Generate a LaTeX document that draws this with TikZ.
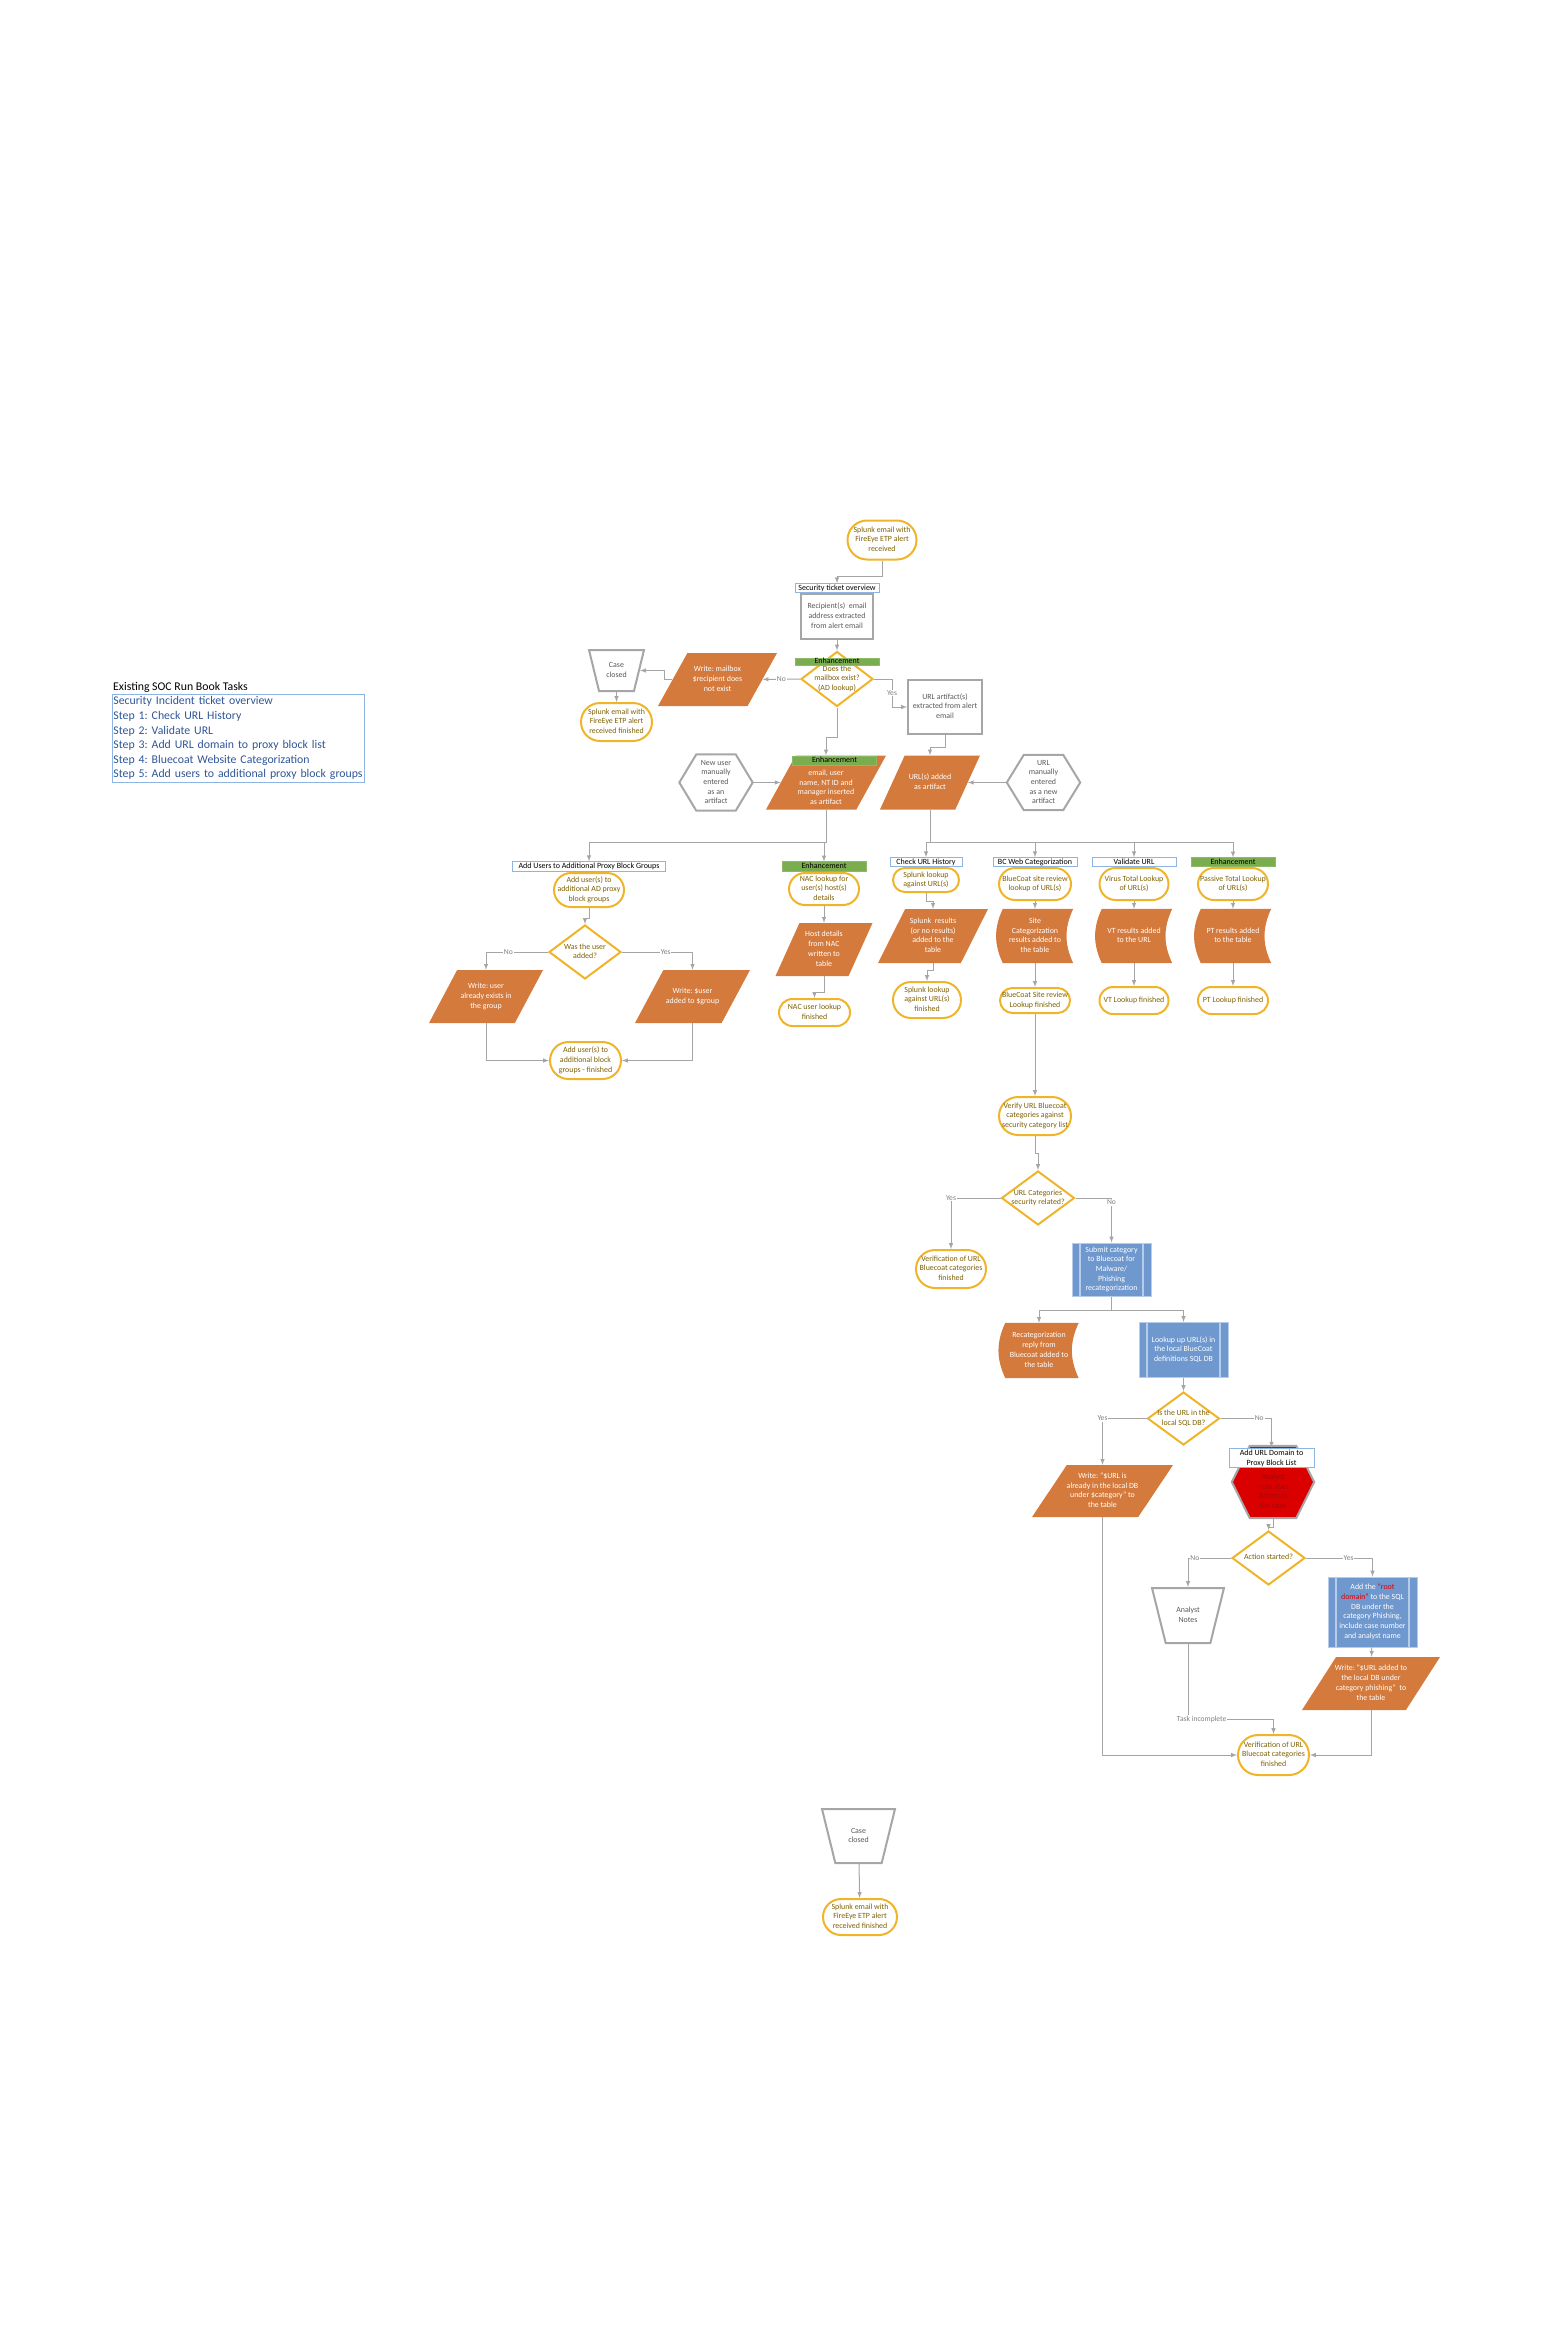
\documentclass[tikz,border=0pt]{standalone}
\usepackage{fontspec}
\setmainfont{Carlito}
\usetikzlibrary{shapes.geometric, shapes.misc, arrows, positioning, backgrounds}
\definecolor{mgold}{HTML}{F0B429}
\definecolor{mtxt}{HTML}{7F6000}
\definecolor{morange}{HTML}{D47A3C}
\definecolor{mgray}{HTML}{A6A6A6}
\definecolor{mgtxt}{HTML}{595959}
\definecolor{mline}{HTML}{A5A5A5}
\definecolor{mlbl}{HTML}{808080}
\definecolor{mblue}{HTML}{6F98CE}
\definecolor{mpale}{HTML}{B7CBEA}
\definecolor{mhdr}{HTML}{8EB4E3}
\definecolor{mgreen}{HTML}{7AAD4E}
\definecolor{mred}{HTML}{DA0000}
\definecolor{mdred}{HTML}{9C0A0A}
\definecolor{mroot}{HTML}{E00000}
\definecolor{mlegend}{HTML}{2F5597}
\newcommand{\nodefont}{\frenchspacing\fontsize{7.9}{9.7}\selectfont}
\newcommand{\hdrfont}{\frenchspacing\fontsize{8}{9.7}\selectfont}
\newcommand{\lblfont}{\fontsize{7.6}{9}\selectfont}
\newcommand{\legfont}{\frenchspacing\fontsize{11.8}{14.6}\selectfont}
% text that does not push the shape wider
\newcommand{\ztext}[2][-2pt]{\makebox[0pt]{\smash{\raisebox{#1}{\begin{tabular}{@{}c@{}}#2\end{tabular}}}}}
\tikzset{trapezium stretches=true}
\tikzstyle{terminal} = [rounded rectangle, draw=mgold, line width=2pt, fill=white, text=mtxt, inner sep=1pt]
\tikzstyle{gbox} = [rectangle, draw=mgray, line width=2pt, fill=white, text=mgtxt, inner sep=1pt]
\tikzstyle{decision} = [diamond, draw=mgold, line width=2pt, fill=white, text=mtxt, inner sep=1pt]
\tikzstyle{writeio} = [trapezium, trapezium left angle=64, trapezium right angle=116, fill=morange, text=white, inner sep=1pt]
\tikzstyle{stored} = [rectangle, text=white, inner sep=1pt]
\tikzstyle{hexa} = [rectangle, text=mgtxt, inner sep=1pt]
\tikzstyle{closed} = [trapezium, shape border rotate=180, trapezium angle=74, draw=mgray, line width=2pt, fill=white, text=mgtxt, inner sep=1pt]
\tikzstyle{subproc} = [rectangle, fill=mblue, draw=mpale, line width=1pt, text=white, inner sep=1pt,
  path picture={\draw[mpale, line width=1.2pt] ([xshift=8pt]path picture bounding box.north west) -- ([xshift=8pt]path picture bounding box.south west)
    ([xshift=-8pt]path picture bounding box.north east) -- ([xshift=-8pt]path picture bounding box.south east);}]
\tikzstyle{header} = [rectangle, draw=mhdr, line width=0.8pt, fill=white, text=black, inner sep=0pt, text height=5.6pt, text depth=1.6pt, font=\hdrfont]
\tikzstyle{enh} = [rectangle, draw=mgreen!85!white, line width=0.6pt, fill=mgreen, text=black, inner sep=0pt, text height=5.4pt, text depth=1.4pt, font=\hdrfont]
\tikzstyle{legend} = [rectangle, draw=mhdr, line width=0.8pt, anchor=north west, minimum width=252pt, minimum height=88pt, text width=250pt, align=left, inner sep=1pt, text=mlegend, font=\legfont]
\tikzstyle{legtitle} = [inner sep=1pt, text=black, font=\legfont]
\tikzstyle{cable} = [line width=1pt, draw=mline, ->, >=latex]
\tikzstyle{wire} = [line width=1pt, draw=mline]
\tikzstyle{lbl} = [fill=white, text=mlbl, inner sep=0.8pt, font=\lblfont]

\begin{document}
\begin{tikzpicture}[x=1pt, y=-1pt, font=\nodefont]
\useasboundingbox (0,0) rectangle (1548,2340);

% legend
\node (legend) [legend] at (112,694) {Security Incident ticket overview\\Step 1: Check URL History\\Step 2: Validate URL\\Step 3: Add URL domain to proxy block list\\Step 4: Bluecoat Website Categorization\\Step 5: Add users to additional proxy block groups};
\node (legtitle) [legtitle, above right = 0pt of legend.north west] {Existing SOC Run Book Tasks};

% ticket and mailbox check
\node (start) [terminal, minimum width=71pt, minimum height=39pt] at (882,540) {\ztext{Splunk email with\\FireEye ETP alert\\received}};
\node (ticket) [gbox, minimum width=72pt, minimum height=45pt] at (837,616.5) {\ztext{Recipient(s)~ email\\address extracted\\from alert email}};
\node (tickhdr) [header, minimum width=84pt, minimum height=9pt, above = 0pt of ticket] {Security ticket overview};
\node (mbx) [decision, minimum width=72pt, minimum height=55pt] at (837,679) {\ztext{Does the\\mailbox exist?\\(AD lookup)}};
\node (mbxenh) [enh, minimum width=84pt, minimum height=7pt] at (837,661.5) {Enhancement};
\node (nombx) [writeio, minimum width=119pt, minimum height=53pt] at (717.5,679.5) {\ztext{Write: mailbox\\\$recipient does\\not exist}};
\node (closed1) [closed, minimum width=55pt, minimum height=41pt] at (616.5,670.5) {\ztext{Case\\closed}};
\node (end1) [terminal, minimum width=73pt, minimum height=38pt] at (616.5,722) {\ztext{Splunk email with\\FireEye ETP alert\\received finished}};
\node (urlext) [gbox, minimum width=74pt, minimum height=54pt] at (945,707) {\ztext{URL artifact(s)\\extracted from alert\\email}};

% artifacts
\node (userart) [writeio, minimum width=120pt, minimum height=54pt] at (826,782.5) {\ztext[-7.5pt]{email, user\\name, NT ID and\\manager inserted\\as artifact}};
\node (userenh) [enh, minimum width=84pt, minimum height=9pt] at (834.5,760.5) {Enhancement};
\node (urlart) [writeio, minimum width=100pt, minimum height=54pt] at (930,782.5) {\ztext{URL(s) added\\as artifact}};
\node (newuser) [hexa, minimum width=73pt, minimum height=56pt] at (716,782.5) {\ztext{New user\\manually\\entered\\as an\\artifact}};
\node (urlnew) [hexa, minimum width=73pt, minimum height=55pt] at (1043.5,782.5) {\ztext{URL\\manually\\entered\\as a new\\artifact}};
\coordinate (splitA) at (824,842);
\coordinate (splitB) at (930,842);

% add users to proxy block groups
\node (addusr) [terminal, minimum width=72pt, minimum height=34pt] at (589,890) {\ztext{Add user(s) to\\additional AD proxy\\block groups}};
\node (addhdr) [header, minimum width=153pt, minimum height=10pt, above = 0pt of addusr] {Add Users to Additional Proxy Block Groups};
\node (wasadd) [decision, minimum width=72pt, minimum height=54pt] at (585,952) {\ztext{Was the user\\added?}};
\node (usrexist) [writeio, minimum width=114pt, minimum height=53pt] at (486,996.5) {\ztext{Write: user\\already exists in\\the group}};
\node (usradd) [writeio, minimum width=115pt, minimum height=53pt] at (692.5,996.5) {\ztext{Write: \$user\\added to \$group}};
\node (addfin) [terminal, minimum width=73pt, minimum height=37pt] at (585.5,1060.5) {\ztext{Add user(s) to\\additional block\\groups - finished}};

% NAC
\node (nac) [terminal, minimum width=72pt, minimum height=32pt] at (824,889) {\ztext{NAC lookup for\\user(s) host(s)\\details}};
\node (nachdr) [enh, minimum width=84pt, minimum height=10pt, above = 0pt of nac] {Enhancement};
\node (hostdet) [writeio, minimum width=97pt, minimum height=53pt] at (824,949.5) {\ztext{Host details\\from NAC\\written to\\table}};
\node (nacfin) [terminal, minimum width=73pt, minimum height=27pt] at (814.5,1012.5) {\ztext{NAC user lookup\\finished}};

% check URL history
\node (splk) [terminal, minimum width=68pt, minimum height=24pt] at (926,880) {\ztext{Splunk lookup\\against URL(s)}};
\node (chkhdr) [header, minimum width=72pt, minimum height=9pt, above = 0pt of splk] {Check URL History};
\node (splkres) [writeio, minimum width=110pt, minimum height=54pt] at (933,936) {\ztext{Splunk~ results\\(or no results)\\added to the\\table}};
\node (splkfin) [terminal, minimum width=70pt, minimum height=36pt] at (927,1000) {\ztext{Splunk lookup\\against URL(s)\\finished}};

% BC web categorization
\node (bcsite) [terminal, minimum width=74pt, minimum height=32pt] at (1035,884) {\ztext{BlueCoat site review\\lookup of URL(s)}};
\node (bchdr) [header, minimum width=84pt, minimum height=9pt, above = 0pt of bcsite] {BC Web Categorization};
\node (sitecat) [stored, minimum width=70pt, minimum height=54pt] at (1035,936) {\ztext{Site\\Categorization\\results added to\\the table}};
\node (bcfin) [terminal, minimum width=72pt, minimum height=25pt] at (1035,1000.5) {\ztext{BlueCoat Site review\\Lookup finished}};

% validate URL
\node (vt) [terminal, minimum width=71pt, minimum height=32pt] at (1134,884) {\ztext{Virus Total Lookup\\of URL(s)}};
\node (vthdr) [header, minimum width=84pt, minimum height=9pt, above = 0pt of vt] {Validate URL};
\node (vtres) [stored, minimum width=70pt, minimum height=54pt] at (1134,936) {\ztext{VT results added\\to the URL}};
\node (vtfin) [terminal, minimum width=71pt, minimum height=27pt] at (1134,1000.5) {\ztext{VT Lookup finished}};

% passive total
\node (pt) [terminal, minimum width=72pt, minimum height=32pt] at (1233,884) {\ztext{Passive Total Lookup\\of URL(s)}};
\node (pthdr) [enh, minimum width=84pt, minimum height=9pt, above = 0pt of pt] {Enhancement};
\node (ptres) [stored, minimum width=70pt, minimum height=54pt] at (1233,936) {\ztext{PT results added\\to the table}};
\node (ptfin) [terminal, minimum width=72pt, minimum height=27pt] at (1233,1000.5) {\ztext{PT Lookup finished}};

% bluecoat categories
\node (verify) [terminal, minimum width=74pt, minimum height=38pt] at (1035,1116) {\ztext{Verify URL Bluecoat\\categories against\\security category list}};
\node (seccat) [decision, minimum width=73pt, minimum height=54pt] at (1038,1198) {\ztext{URL Categories\\security related?}};
\node (verfin1) [terminal, minimum width=72pt, minimum height=38pt] at (951,1269) {\ztext{Verification of URL\\Bluecoat categories\\finished}};
\node (submit) [subproc, minimum width=79pt, minimum height=53pt] at (1111.5,1269.5) {\ztext{Submit category\\to Bluecoat for\\Malware/\\Phishing\\recategorization}};
\coordinate (splitC) at (1111.5,1310);
\node (recat) [stored, minimum width=73pt, minimum height=55pt] at (1039,1350.5) {\ztext{Recategorization\\reply from\\Bluecoat added to\\the table}};
\node (lookup) [subproc, minimum width=89pt, minimum height=55pt] at (1183.5,1350) {\ztext{Lookup up URL(s) in\\the local BlueCoat\\definitions SQL DB}};
\node (inlocal) [decision, minimum width=72pt, minimum height=53pt] at (1183.5,1418.5) {\ztext{Is the URL in the\\local SQL DB?}};
\node (already) [writeio, minimum width=141pt, minimum height=52pt] at (1102.5,1491) {\ztext{Write: “\$URL is\\already in the local DB\\under \$category” to\\the table}};

% proxy block list
\node (analyst) [hexa, text=mdred, minimum width=82pt, minimum height=72pt] at (1273,1482) {\ztext[-12pt]{Analyst\\must start\\Action in\\the case}};
\node (blockhdr) [header, minimum width=85pt, minimum height=19pt] at (1271.5,1457.5) {\ztext[-1pt]{Add URL Domain to\\Proxy Block List}};
\node (action) [decision, minimum width=73pt, minimum height=54pt] at (1268.5,1558) {\ztext{Action started?}};
\node (notes) [closed, trapezium angle=73, minimum width=72pt, minimum height=55pt] at (1188,1615.5) {\ztext{Analyst\\Notes}};
\coordinate (taskbend) at (1188,1719);
\node (rootdom) [subproc, minimum width=89pt, minimum height=70pt] at (1372.5,1612) {\ztext{Add the \textcolor{mroot}{“root}\\\textcolor{mroot}{domain”} to the SQL\\DB under the\\category Phishing,\\include case number\\and analyst name}};
\node (urladd) [writeio, minimum width=138pt, minimum height=53pt] at (1371,1683.5) {\ztext{Write: “\$URL added to\\the local DB under\\category phishing”~ to\\the table}};
\node (verfin2) [terminal, minimum width=73pt, minimum height=40pt] at (1273.5,1755) {\ztext{Verification of URL\\Bluecoat categories\\finished}};

% closing
\node (closed2) [closed, minimum width=73pt, minimum height=54pt] at (858.5,1836) {\ztext{Case\\closed}};
\node (end2) [terminal, minimum width=76pt, minimum height=36pt] at (860,1917) {\ztext{Splunk email with\\FireEye ETP alert\\received finished}};

% shapes drawn behind their texts
\begin{scope}[on background layer]
\foreach \n in {sitecat, vtres, ptres, recat}
  \fill[morange] ([xshift=3pt]\n.north west) to[bend right=25] ([xshift=3pt]\n.south west) -- ([xshift=3pt]\n.south east) to[bend left=25] ([xshift=3pt]\n.north east) -- cycle;
\foreach \n in {newuser, urlnew}
  \draw[mgray, line width=2pt, fill=white] (\n.west) -- ([xshift=17pt]\n.north west) -- ([xshift=-17pt]\n.north east) -- (\n.east) -- ([xshift=-17pt]\n.south east) -- ([xshift=17pt]\n.south west) -- cycle;
\draw[mgray, line width=2pt, fill=mred] (analyst.west) -- ([xshift=18pt]analyst.north west) -- ([xshift=-18pt]analyst.north east) -- (analyst.east) -- ([xshift=-18pt]analyst.south east) -- ([xshift=18pt]analyst.south west) -- cycle;
\end{scope}

% connectors
\draw [cable] (start.south) -- ++(0,16) -| (tickhdr);
\draw [cable] (ticket) -- (mbx);
\draw [cable] (mbx) -- node[lbl] {No} (nombx);
\draw [cable] (nombx.west) -- ++(-8,0) |- (closed1);
\draw [cable] (closed1) -- (end1);
\draw [cable] (mbx.east) -- ++(18,0) |- node[lbl, pos=0.25] {Yes} (urlext);
\draw [cable] (urlext.south) -- ++(0,12) -| (urlart);
\draw [cable] (mbx.south) -- ++(0,30) -| (userart);
\draw [cable] (newuser) -- (userart);
\draw [cable] (urlnew) -- (urlart);
\draw [wire] (userart) |- (splitA);
\draw [cable] (splitA) -| (addhdr);
\draw [cable] (splitA) -- (nachdr);
\draw [wire] (urlart) -- (splitB);
\draw [cable] (splitB) -| (chkhdr);
\draw [cable] (splitB) -| (bchdr);
\draw [cable] (splitB) -| (vthdr);
\draw [cable] (splitB) -| (pthdr);

\draw [cable] (addusr.south) -- ++(0,10) -| (wasadd);
\draw [cable] (wasadd.west) -| node[lbl, pos=0.32] {No} (usrexist);
\draw [cable] (wasadd.east) -| node[lbl, pos=0.31] {Yes} (usradd);
\draw [cable] (usrexist) |- (addfin);
\draw [cable] (usradd) |- (addfin);
\draw [cable] (nac) -- (hostdet);
\draw [cable] (hostdet.center |- hostdet.south) -- ++(0,16) -| (nacfin);
\draw [cable] (splk.south) -- ++(0,8) -| (splkres);
\draw [cable] (splkres.center |- splkres.south) -- ++(0,7) -| (splkfin);
\draw [cable] (bcsite) -- (sitecat);
\draw [cable] (sitecat) -- (bcfin);
\draw [cable] (vt) -- (vtres);
\draw [cable] (vtres) -- (vtfin);
\draw [cable] (pt) -- (ptres);
\draw [cable] (ptres) -- (ptfin);

\draw [cable] (bcfin) -- (verify);
\draw [cable] (verify.south) -- ++(0,17) -| (seccat);
\draw [cable] (seccat.west) -| node[lbl] {Yes} (verfin1);
\draw [cable] (seccat.east) -| node[lbl, pos=0.55] {No} (submit);
\draw [wire] (submit) -- (splitC);
\draw [cable] (splitC) -| (recat);
\draw [cable] (splitC) -| (lookup);
\draw [cable] (lookup) -- (inlocal);
\draw [cable] (inlocal.west) -| node[lbl] {Yes} (already);
\draw [cable] (inlocal.east) -| node[lbl, pos=0.38] {No} (blockhdr);
\draw [cable] (analyst.south) -- ++(0,9) -| (action);
\draw [cable] (action.west) -| node[lbl, pos=0.42] {No} (notes);
\draw [cable] (action.east) -| node[lbl, pos=0.32] {Yes} (rootdom);
\draw [cable] (rootdom) -- (urladd);
\draw [cable] (urladd) |- (verfin2);
\draw [cable] (already) |- (verfin2);
\draw [cable] (notes) -- (taskbend) -| node[lbl, pos=0.08] {Task incomplete} (verfin2);
\draw [cable] (closed2) -- (end2);
\end{tikzpicture}
\end{document}
